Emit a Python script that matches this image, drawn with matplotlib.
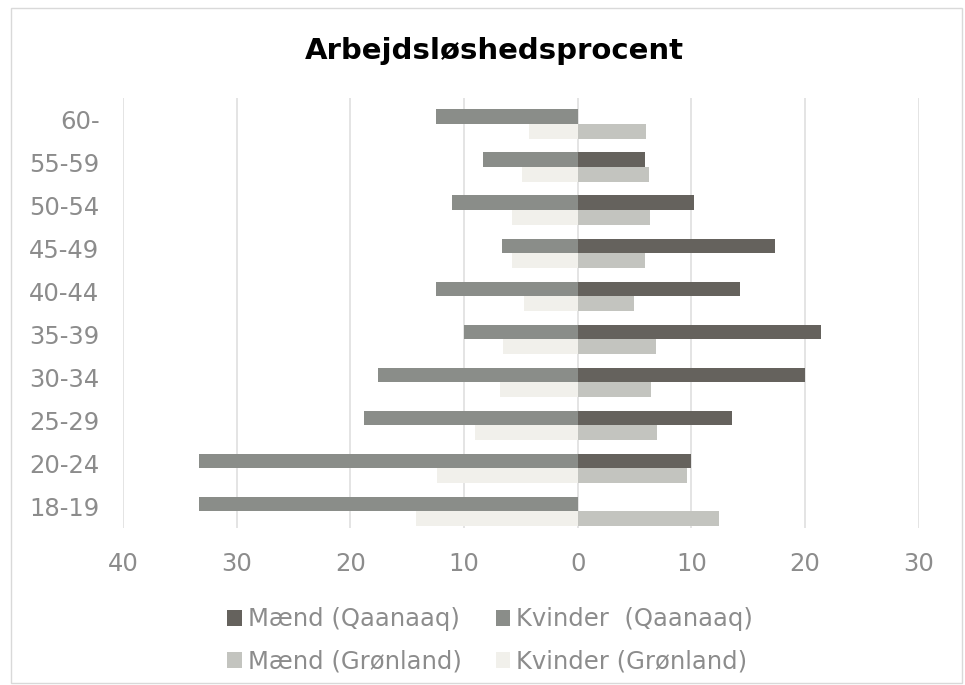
import matplotlib.pyplot as plt
import numpy as np
from matplotlib.patches import Rectangle

# aldersgrupper, nederst til øverst
ages = ['18-19', '20-24', '25-29', '30-34', '35-39',
        '40-44', '45-49', '50-54', '55-59', '60-']

maend_qaanaaq = [0, 10.0, 13.6, 20.0, 21.4, 14.3, 17.4, 10.25, 5.9, 0]
kvinder_qaanaaq = [33.3, 33.3, 18.8, 17.6, 10.0, 12.5, 6.7, 11.1, 8.3, 12.5]
maend_gronland = [12.45, 9.6, 6.95, 6.45, 6.9, 4.95, 5.9, 6.4, 6.25, 6.0]
kvinder_gronland = [14.2, 12.4, 9.0, 6.8, 6.6, 4.7, 5.8, 5.8, 4.9, 4.3]

x_ticks = [-40, -30, -20, -10, 0, 10, 20, 30]
x_labels = ['40', '30', '20', '10', '0', '10', '20', '30']

c_mq = '#65625d'
c_kq = '#8a8d89'
c_mg = '#c3c4bf'
c_kg = '#f1f0eb'
txt = '#8c8c8c'

fig = plt.figure(figsize=(9.65, 6.85), dpi=100)
ax = fig.add_axes([0.1275, 0.229, 0.8245, 0.628])

y = np.arange(len(ages))
h = 0.345
yq = y + 0.06
yg = y - 0.285

b1 = ax.barh(yq, maend_qaanaaq, height=h, color=c_mq, label='Mænd (Qaanaaq)', zorder=3)
b2 = ax.barh(yq, [-v for v in kvinder_qaanaaq], height=h, color=c_kq,
             label='Kvinder  (Qaanaaq)', zorder=3)
b3 = ax.barh(yg, maend_gronland, height=h, color=c_mg, label='Mænd (Grønland)', zorder=3)
b4 = ax.barh(yg, [-v for v in kvinder_gronland], height=h, color=c_kg,
             label='Kvinder (Grønland)', zorder=3)

ax.set_xlim(-40, 30)
ax.set_ylim(-0.5, len(ages) - 0.5)
ax.set_xticks(x_ticks)
ax.set_xticklabels(x_labels)
ax.set_yticks(y)
ax.set_yticklabels(ages)
ax.tick_params(axis='x', length=0, pad=17, labelsize=17.5, labelcolor=txt)
ax.tick_params(axis='y', length=0, pad=17, labelsize=17.5, labelcolor=txt)
ax.grid(axis='x', color='#e2e2e2', linewidth=1.3, zorder=0)
ax.grid(axis='y', visible=False)
for sp in ax.spines.values():
    sp.set_visible(False)

fig.text(0.512, 0.925, 'Arbejdsløshedsprocent', ha='center', va='center',
         fontsize=21, fontweight='bold', color='black')

fig.legend(handles=[b1, b3, b2, b4], loc='center', bbox_to_anchor=(0.508, 0.065),
           ncol=2, frameon=False, fontsize=17.5, labelcolor=txt,
           handlelength=0.6, handleheight=0.6, handletextpad=0.25,
           columnspacing=1.4, labelspacing=0.75)

fig.patches.append(Rectangle((0.011, 0.003), 0.986, 0.985, transform=fig.transFigure,
                             fill=False, edgecolor='#d9d9d9', linewidth=1))

fig.savefig('out.png', dpi=100)
